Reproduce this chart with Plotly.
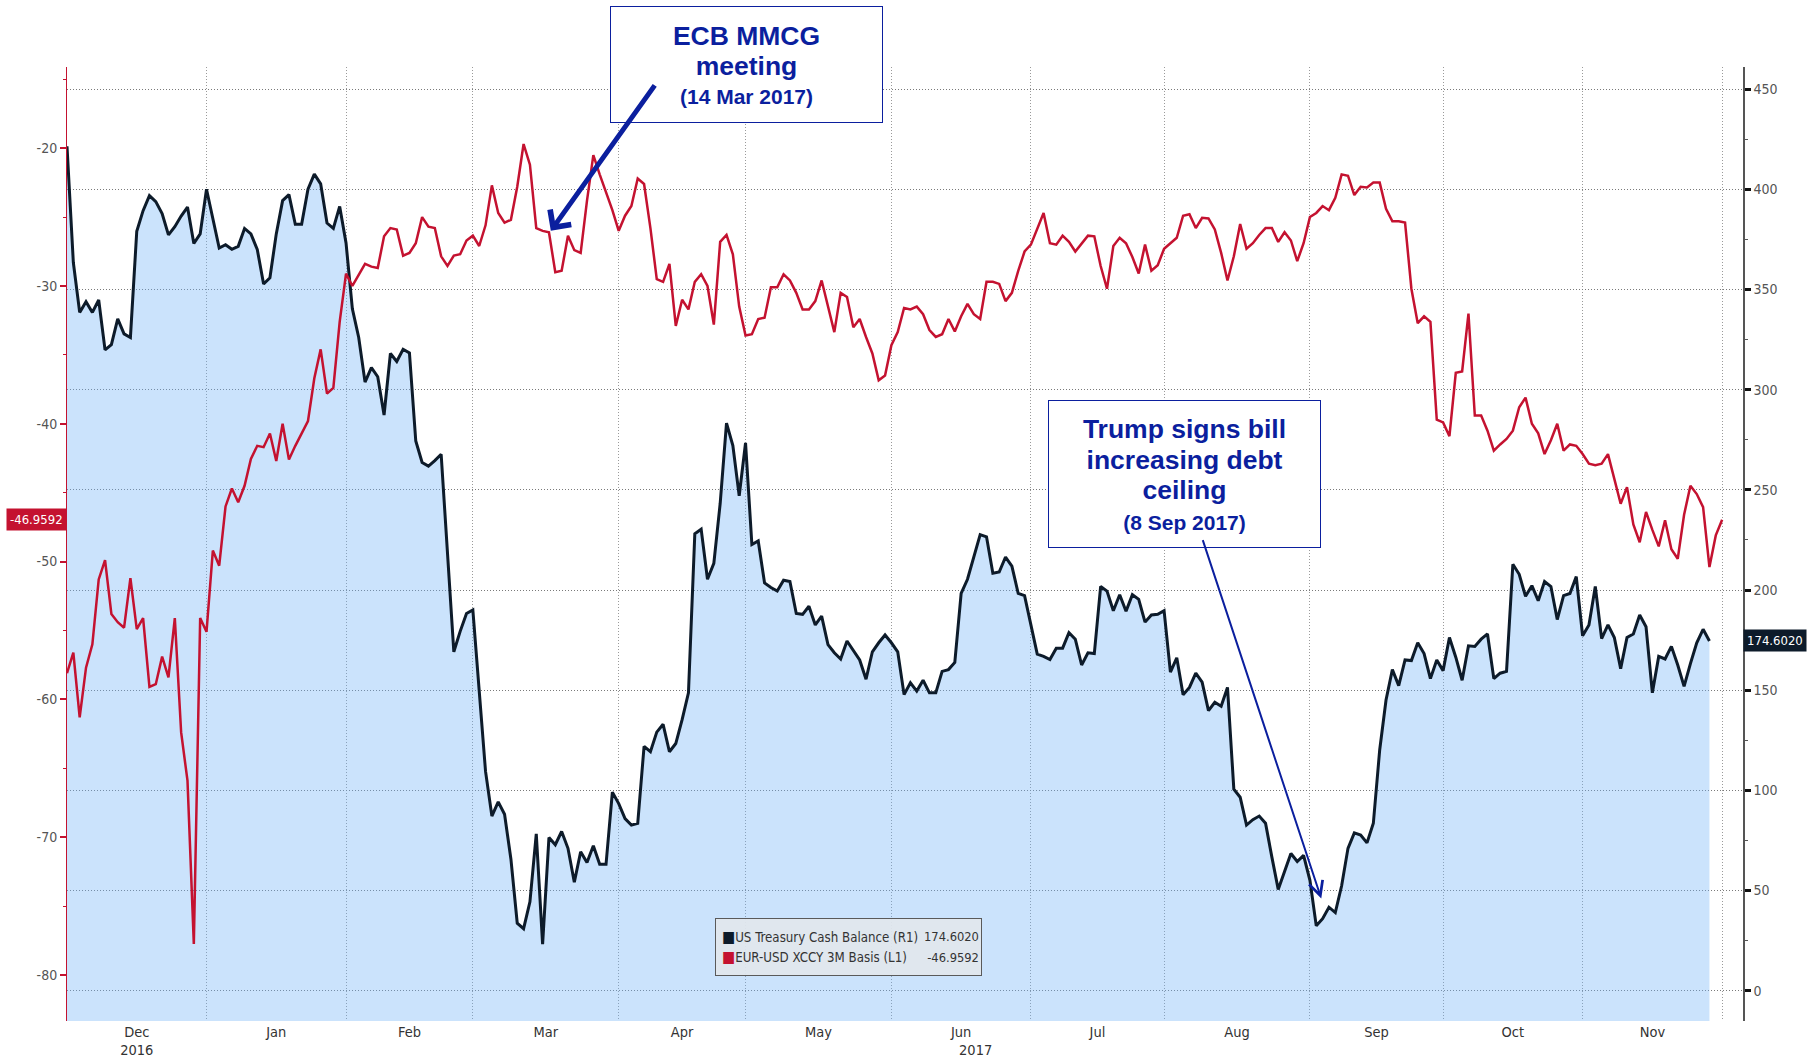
import pandas as pd
import plotly.graph_objects as go

# ---------------- data (one value per business day from 1 Dec 2016) ----------------
START = "2016-12-01"

basis_name = "EUR-USD XCCY 3M Basis (L1)"
basis_val = [
    -58.1, -56.6, -61.3, -57.7, -56.0, -51.3, -49.9, -53.8, -54.4, -54.8,
    -51.2, -54.9, -54.1, -59.1, -58.9, -56.9, -58.4, -54.1, -62.4, -65.9,
    -77.75, -54.1, -55.1, -49.2, -50.3, -46.0, -44.7, -45.7, -44.5, -42.55,
    -41.6, -41.7, -40.7, -42.7, -40.0, -42.6, -41.6, -40.7, -39.8, -36.7,
    -34.6, -37.8, -37.4, -32.6, -29.1, -30.0, -29.2, -28.4, -28.6, -28.7,
    -26.4, -25.8, -25.9, -27.8, -27.6, -26.9, -25.0, -25.7, -25.8, -27.85,
    -28.55, -27.8, -27.7, -26.7, -26.35, -27.1, -25.6, -22.7, -24.7, -25.4,
    -25.2, -22.8, -19.7, -21.2, -25.8, -26.0, -26.1, -29.0, -28.9, -26.35,
    -27.4, -27.6, -23.8, -20.5, -21.9, -23.2, -24.5, -26.0, -24.9, -24.2,
    -22.2, -22.6, -25.8, -29.5, -29.7, -28.4, -32.9, -31.0, -31.7, -29.7,
    -29.15, -30.0, -32.8, -26.8, -26.3, -27.7, -31.5, -33.6, -33.5, -32.4,
    -32.3, -30.1, -30.1, -29.15, -29.6, -30.5, -31.7, -31.7, -31.1, -29.6,
    -31.5, -33.35, -30.5, -30.8, -33.0, -32.4, -33.7, -34.9, -36.85, -36.5,
    -34.3, -33.35, -31.6, -31.7, -31.5, -32.05, -33.2, -33.7, -33.5, -32.4,
    -33.3, -32.2, -31.3, -32.05, -32.4, -29.7, -29.7, -29.85, -31.1, -30.5,
    -28.9, -27.5, -27.0, -25.8, -24.7, -26.9, -27.0, -26.35, -26.8, -27.5,
    -26.9, -26.35, -26.4, -28.55, -30.2, -27.1, -26.5, -26.9, -27.9, -29.1,
    -27.0, -28.9, -28.5, -27.3, -26.9, -26.5, -24.9, -24.8, -25.8, -25.05,
    -25.1, -25.9, -27.6, -29.6, -27.85, -25.5, -27.3, -26.9, -26.3, -25.8,
    -25.8, -26.8, -26.1, -26.7, -28.2, -26.9, -25.0, -24.7, -24.2, -24.5,
    -23.6, -21.9, -22.0, -23.4, -22.8, -22.85, -22.5, -22.5, -24.4, -25.3,
    -25.3, -25.4, -30.2, -32.7, -32.2, -32.6, -39.7, -39.9, -40.9, -36.3,
    -36.2, -32.0, -39.4, -39.4, -40.5, -41.95, -41.5, -41.1, -40.5, -38.8,
    -38.1, -40.0, -40.7, -42.2, -41.2, -40.0, -41.95, -41.5, -41.6, -42.2,
    -42.9, -43.0, -42.9, -42.2, -44.0, -45.8, -44.6, -47.3, -48.6, -46.4,
    -47.7, -48.9, -47.0, -49.1, -49.8, -46.6, -44.5, -45.1, -46.05, -50.4,
    -48.1, -46.9592,
]

cash_name = "US Treasury Cash Balance (R1)"
cash_val = [
    421.5, 363.5, 338.6, 343.9, 338.6, 344.8, 319.9, 322.5, 335.4, 327.9,
    326.1, 379.1, 389.4, 396.9, 393.9, 388.0, 377.3, 381.4, 386.7, 391.2,
    373.0, 377.8, 400.1, 384.9, 370.7, 372.4, 370.1, 371.6, 380.5, 377.8,
    370.1, 352.8, 355.9, 377.8, 394.4, 397.4, 382.6, 382.6, 400.1, 407.6,
    402.8, 383.2, 380.5, 391.5, 373.3, 340.4, 326.1, 303.8, 311.0, 306.5,
    287.4, 318.1, 314.1, 320.2, 318.4, 274.4, 263.7, 261.9, 264.6, 267.8,
    220.0, 169.2, 179.4, 188.3, 190.1, 150.5, 109.5, 87.2, 94.3, 88.1,
    65.8, 33.7, 31.0, 44.4, 78.3, 23.3, 76.5, 72.9, 79.5, 71.1,
    54.2, 69.4, 64.0, 72.4, 63.1, 63.1, 99.1, 93.4, 85.9, 82.7,
    83.6, 122.0, 119.3, 129.1, 133.0, 119.3, 123.4, 135.3, 148.7, 228.1,
    230.4, 205.4, 213.3, 243.2, 283.3, 272.1, 247.1, 273.5, 222.7, 224.5,
    203.6, 201.3, 199.5, 204.9, 204.3, 188.3, 187.9, 191.9, 182.6, 187.0,
    172.8, 168.7, 165.6, 174.6, 170.1, 165.1, 155.5, 169.2, 173.7, 177.6,
    173.7, 169.2, 147.8, 153.7, 149.6, 155.0, 148.7, 148.7, 159.4, 160.3,
    163.9, 198.3, 205.4, 216.8, 227.7, 226.6, 208.4, 209.0, 216.5, 212.0,
    198.3, 197.2, 181.7, 168.0, 166.9, 165.3, 171.0, 171.0, 178.7, 175.5,
    162.6, 168.7, 168.3, 201.8, 199.5, 189.7, 197.7, 189.4, 197.7, 195.4,
    184.0, 187.6, 187.9, 189.7, 159.0, 166.2, 147.8, 151.4, 158.5, 154.0,
    139.8, 144.0, 142.0, 151.4, 100.6, 96.6, 82.7, 85.4, 87.2, 83.6,
    66.7, 50.6, 59.5, 68.5, 64.5, 67.6, 55.1, 32.4, 36.0, 41.7,
    39.0, 52.4, 71.1, 78.8, 77.7, 73.8, 83.6, 120.2, 145.1, 160.3,
    152.3, 165.1, 164.8, 173.7, 168.3, 155.8, 165.1, 159.8, 176.3, 166.5,
    155.0, 172.2, 171.9, 175.5, 178.1, 155.8, 158.5, 159.4, 212.9, 207.9,
    196.9, 202.2, 194.7, 204.3, 201.8, 185.3, 197.2, 198.3, 206.7, 177.2,
    182.6, 201.8, 175.8, 182.6, 176.3, 160.8, 176.3, 178.1, 187.6, 181.7,
    148.7, 166.9, 165.6, 171.9, 162.6, 151.9, 163.3, 173.7, 180.4, 174.602,
]

NBSP = "\u00a0"
month_text = ["Dec<br>2016", "Jan", "Feb", "Mar", "Apr", "May",
              "Jun<br>" + NBSP * 7 + "2017", "Jul", "Aug", "Sep", "Oct", "Nov"]
left_ticks = [-80, -70, -60, -50, -40, -30, -20]
right_ticks = [0, 50, 100, 150, 200, 250, 300, 350, 400, 450]

# ---------------- derived dates ----------------
basis_x = pd.bdate_range(START, periods=len(basis_val))
cash_x = pd.bdate_range(START, periods=len(cash_val))

months = pd.period_range("2016-12", "2017-11", freq="M")
month_start, month_mid = [], []
for m in months:
    days = pd.bdate_range(m.start_time, m.end_time.normalize())
    month_start.append(days[0])
    n = len(days)
    month_mid.append(days[n // 2] + pd.Timedelta(hours=12 * (n % 2)))
month_start.append(pd.bdate_range("2017-12-01", periods=1)[0])

X_RANGE = ["2016-12-01", "2017-12-06 07:00"]
LEFT_RANGE = [-83.34, -14.11]
RIGHT_RANGE = [-15.1, 461.1]

RED = "#c41230"
DARK = "#0d1b2a"
BLUE = "#0b1f9e"
NARROW = "'Liberation Sans Narrow', 'DejaVu Sans Condensed', sans-serif"
BOLD = "'Liberation Sans', Arial, sans-serif"

W, H = 1816, 1060
ML, MR, MT, MB = 67, 73, 67, 39
PW, PH = W - ML - MR, H - MT - MB


def px(xp):
    return (xp - ML) / PW


def py(yp):
    return (H - MB - yp) / PH


fig = go.Figure()

# baseline for the area fill (bottom of the right axis)
fig.add_trace(go.Scatter(x=cash_x, y=[RIGHT_RANGE[0]] * len(cash_val), yaxis="y",
                         mode="lines", line=dict(width=0), hoverinfo="skip",
                         showlegend=False))
fig.add_trace(go.Scatter(x=cash_x, y=cash_val, yaxis="y", name=cash_name,
                         mode="lines", fill="tonexty",
                         fillcolor="rgba(112,178,246,0.36)",
                         line=dict(color=DARK, width=3), showlegend=False))
fig.add_trace(go.Scatter(x=basis_x, y=basis_val, yaxis="y2", name=basis_name,
                         mode="lines", line=dict(color=RED, width=2.5),
                         showlegend=False))

annotations = [
    # last-value tags
    dict(xref="paper", x=0, xanchor="right", yref="y2", y=basis_val[-1],
         text=f"{basis_val[-1]:.4f}", showarrow=False, bgcolor=RED,
         font=dict(family=NARROW, size=13, color="white"), borderpad=3),
    dict(xref="paper", x=1, xanchor="left", yref="y", y=cash_val[-1],
         text=f"{cash_val[-1]:.4f}", showarrow=False, bgcolor=DARK,
         font=dict(family=NARROW, size=13, color="white"), borderpad=3),
    # legend box
    dict(xref="paper", x=px(715), xanchor="left",
         yref="paper", y=py(918), yanchor="top",
         text=(f"<span style='color:{DARK}'>■</span>"
               f"<span style='font-size:13.2px'>{cash_name}</span><br>"
               f"<span style='color:{RED}'>■</span>"
               f"<span style='font-size:13.2px'>{basis_name}</span>"),
         align="left", showarrow=False, width=253, height=44,
         bgcolor="rgba(226,231,237,0.92)", bordercolor="#5a5a5a", borderwidth=1,
         borderpad=6, font=dict(family=NARROW, size=15.5, color="#333333")),
    dict(xref="paper", x=px(980), xanchor="right",
         yref="paper", y=py(918), yanchor="top",
         text=(f"<span style='font-size:12.8px'>{cash_val[-1]:.4f}</span><br>"
               f"<span style='font-size:12.8px'>{basis_val[-1]:.4f}</span>"),
         align="right", showarrow=False, height=44, borderpad=6,
         xshift=6,
         font=dict(family=NARROW, size=15.5, color="#333333")),
    # ECB box
    dict(xref="paper", x=px(746.5), xanchor="center",
         yref="paper", y=py(6), yanchor="top",
         text=("<b><span style='font-size:26.5px'>ECB MMCG</span><br>"
               "<span style='font-size:26.5px'>meeting</span><br>"
               "<span style='font-size:21px'>(14 Mar 2017)</span></b>"),
         showarrow=False, width=261, height=105, borderpad=5,
         bordercolor=BLUE, borderwidth=1, bgcolor="white",
         font=dict(family=BOLD, size=23, color=BLUE)),
    # Trump box
    dict(xref="paper", x=px(1184.5), xanchor="center",
         yref="paper", y=py(400), yanchor="top",
         text=("<b><span style='font-size:26.5px'>Trump signs bill</span><br>"
               "<span style='font-size:26.5px'>increasing debt</span><br>"
               "<span style='font-size:26.5px'>ceiling</span><br>"
               "<span style='font-size:21px'>(8 Sep 2017)</span></b>"),
         showarrow=False, width=261, height=136, borderpad=5,
         bordercolor=BLUE, borderwidth=1, bgcolor="white",
         font=dict(family=BOLD, size=23.5, color=BLUE)),
    # arrows
    dict(x="2017-03-17 07:00", y=-26.0, xref="x", yref="y2", text="",
         showarrow=True, arrowhead=4, arrowsize=1.0, arrowwidth=5,
         arrowcolor=BLUE, ax=105, ay=-147, standoff=0),
    dict(x="2017-09-04 19:00", y=46, xref="x", yref="y", text="",
         showarrow=True, arrowhead=5, arrowsize=1.4, arrowwidth=2,
         arrowcolor=BLUE, ax=-119, ay=-360, standoff=0),
]

fig.update_layout(
    width=W, height=H,
    margin=dict(l=ML, r=MR, t=MT, b=MB, autoexpand=False),
    paper_bgcolor="white", plot_bgcolor="white",
    showlegend=False,
    annotations=annotations,
    xaxis=dict(
        type="date", range=X_RANGE, automargin=False,
        rangebreaks=[dict(bounds=["sat", "mon"])],
        tickmode="array", tickvals=month_mid, ticktext=month_text,
        ticks="", showgrid=False, showline=False, zeroline=False,
        tickfont=dict(family=NARROW, size=14.5, color="#333333"),
        minor=dict(tickmode="array", tickvals=month_start, showgrid=True,
                   gridcolor="#9a9a9a", griddash="1px,2px", gridwidth=1, ticks=""),
    ),
    # right axis: Treasury cash balance (main axis, carries the horizontal grid)
    yaxis=dict(
        range=RIGHT_RANGE, side="right", automargin=False,
        tickmode="array", tickvals=right_ticks,
        showgrid=True, gridcolor="#7a7a7a", griddash="1px,2px", gridwidth=1,
        zeroline=False, showline=True, linecolor="#555555", linewidth=1.5,
        ticks="outside", ticklen=6, tickwidth=3, tickcolor="#111111",
        tickfont=dict(family=NARROW, size=14, color="#555555"),
        minor=dict(dtick=25, ticks="outside", ticklen=3, tickcolor="#555555", tickwidth=1),
    ),
    # left axis: EUR-USD basis (overlay, drawn on top)
    yaxis2=dict(
        range=LEFT_RANGE, overlaying="y", side="left", automargin=False,
        tickmode="array", tickvals=left_ticks,
        ticktext=[str(v) for v in left_ticks],
        showgrid=False, zeroline=False, showline=True, linecolor=RED, linewidth=1,
        ticks="outside", ticklen=6, tickwidth=2, tickcolor=RED,
        tickfont=dict(family=NARROW, size=14, color="#555555"),
        minor=dict(dtick=5, ticks="outside", ticklen=3, tickcolor=RED, tickwidth=1),
    ),
)

fig.write_html("out.html",
               config={"displayModeBar": False},
               post_script="document.body.style.margin='0';")
